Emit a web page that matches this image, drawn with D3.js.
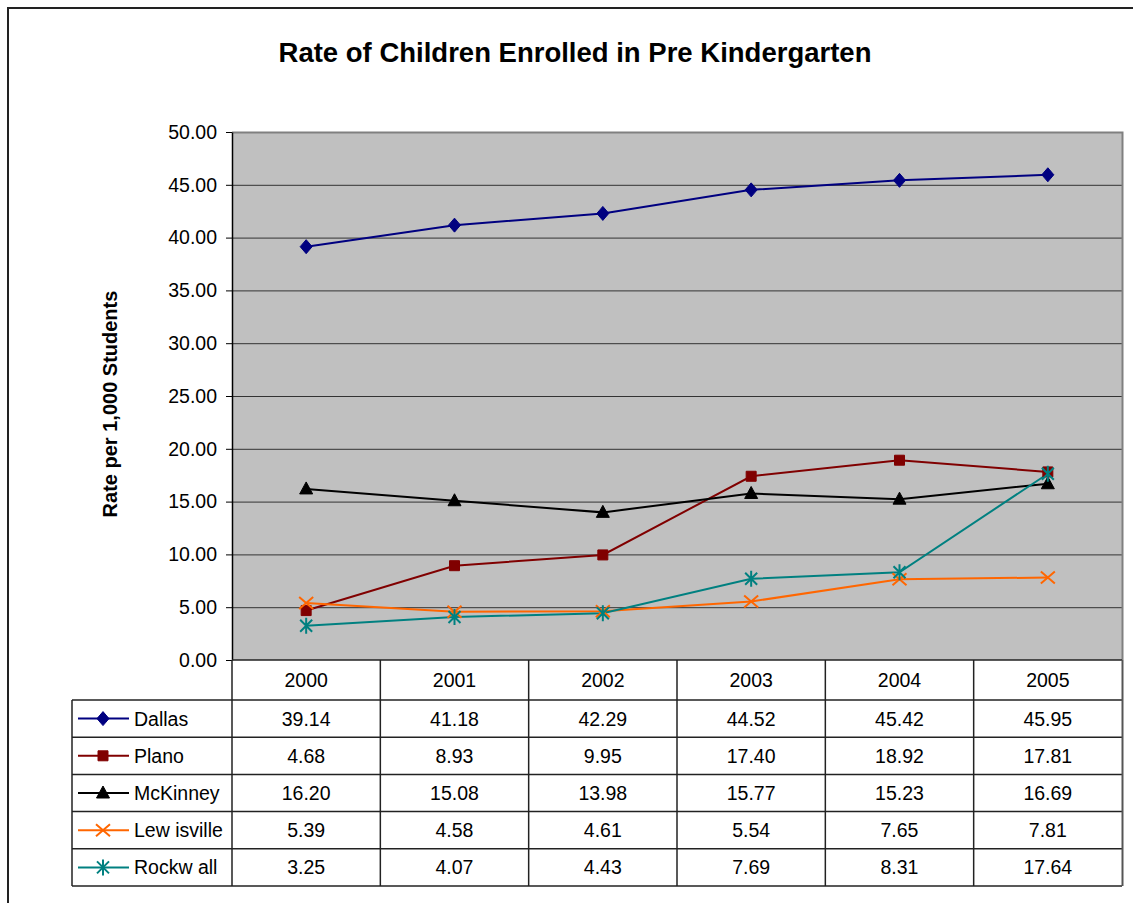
<!DOCTYPE html>
<html>
<head>
<meta charset="utf-8">
<script src="https://cdn.jsdelivr.net/npm/d3@7"></script>
<style>
  body { margin: 0; background: #fff; }
  svg { display: block; font-family: "Liberation Sans", Arial, sans-serif; }
</style>
</head>
<body>
<script>
// values
var years = ["2000", "2001", "2002", "2003", "2004", "2005"];
var cities = ["Dallas", "Plano", "McKinney", "Lew isville", "Rockw all"];
var dallas = [39.14, 41.18, 42.29, 44.52, 45.42, 45.95];
var plano = [4.68, 8.93, 9.95, 17.40, 18.92, 17.81];
var mckinney = [16.20, 15.08, 13.98, 15.77, 15.23, 16.69];
var lewisville = [5.39, 4.58, 4.61, 5.54, 7.65, 7.81];
var rockwall = [3.25, 4.07, 4.43, 7.69, 8.31, 17.64];
var yTicks = [0, 5, 10, 15, 20, 25, 30, 35, 40, 45, 50];

var colors = ["#000080", "#800000", "#000000", "#FF6600", "#008080"];
var markers = ["diamond", "square", "triangle", "x", "star"];

var series = cities.map((c, i) => ({
    name: c,
    values: [dallas, plano, mckinney, lewisville, rockwall][i],
    color: colors[i],
    marker: markers[i]
}));

var width = 1133, height = 903;
var plot = { left: 232, right: 1122, top: 132, bottom: 660 };
var fs = "19.5px";

var svg = d3.select("body").append("svg")
    .attr("width", width)
    .attr("height", height);

// outer chart frame (runs off the page on the right and bottom)
svg.append("rect")
    .attr("x", 8).attr("y", 8)
    .attr("width", 1140).attr("height", 910)
    .attr("fill", "#fff")
    .attr("stroke", "#222")
    .attr("stroke-width", 2);

var x = d3.scaleBand().domain(years).range([plot.left, plot.right]);
var y = d3.scaleLinear().domain([0, 50]).range([plot.bottom, plot.top]);

// plot background
svg.append("rect")
    .attr("x", plot.left).attr("y", plot.top)
    .attr("width", plot.right - plot.left)
    .attr("height", plot.bottom - plot.top)
    .attr("fill", "#C0C0C0");

// gridlines
svg.append("g").selectAll("line")
    .data(yTicks.filter(d => d > 0 && d < 50))
    .enter().append("line")
    .attr("x1", plot.left).attr("x2", plot.right)
    .attr("y1", d => y(d) + 0.5).attr("y2", d => y(d) + 0.5)
    .attr("stroke", "#333")
    .attr("stroke-width", 1);

// plot border top / right in grey
svg.append("path")
    .attr("d", `M${plot.left},${plot.top + 0.5}H${plot.right + 0.5}V${plot.bottom}`)
    .attr("fill", "none")
    .attr("stroke", "#808080")
    .attr("stroke-width", 2);

// y axis
var yAxis = svg.append("g")
    .attr("transform", `translate(${plot.left},0)`)
    .call(d3.axisLeft(y).tickValues(yTicks).tickFormat(d3.format(".2f")).tickSize(6).tickSizeOuter(0));
yAxis.select(".domain").attr("stroke", "#000").attr("stroke-width", 1.5);
yAxis.selectAll(".tick line").attr("stroke", "#000");
yAxis.selectAll("text")
    .attr("font-family", "Liberation Sans, Arial, sans-serif")
    .attr("font-size", fs)
    .attr("fill", "#000")
    .attr("x", -15);

// title
svg.append("text")
    .attr("x", 575).attr("y", 62)
    .attr("text-anchor", "middle")
    .attr("font-size", "27.5px")
    .attr("font-weight", "bold")
    .text("Rate of Children Enrolled in Pre Kindergarten");

// y axis label
svg.append("text")
    .attr("transform", "translate(117,404) rotate(-90)")
    .attr("text-anchor", "middle")
    .attr("font-size", "20px")
    .attr("font-weight", "bold")
    .text("Rate per 1,000 Students");

// marker shapes
function markerPath(type) {
    switch (type) {
        case "diamond": return "M0,-7L6,0L0,7L-6,0Z";
        case "square": return "M-5,-5H5V5H-5Z";
        case "triangle": return "M0,-7L6.5,5H-6.5Z";
        case "x": return "M-7,-6L7,6M-7,6L7,-6";
        case "star": return "M-6,-6L6,6M-6,6L6,-6M0,-8V8";
    }
}
function drawMarker(g, s, cx, cy) {
    var filled = s.marker === "diamond" || s.marker === "square" || s.marker === "triangle";
    g.append("path")
        .attr("transform", `translate(${cx},${cy})`)
        .attr("d", markerPath(s.marker))
        .attr("fill", filled ? s.color : "none")
        .attr("stroke", s.color)
        .attr("stroke-width", filled ? 1 : 2);
}

var line = d3.line()
    .x((d, i) => x(years[i]) + x.bandwidth() / 2)
    .y(d => y(d));

var lines = svg.append("g");
series.forEach(s => {
    lines.append("path")
        .attr("d", line(s.values))
        .attr("fill", "none")
        .attr("stroke", s.color)
        .attr("stroke-width", 2);
});
series.forEach(s => {
    s.values.forEach((v, i) => {
        drawMarker(lines, s, x(years[i]) + x.bandwidth() / 2, y(v));
    });
});

// data table
var tableLeft = 72;
var headTop = plot.bottom, headBottom = 700, tableBottom = 886;
var rowY = d3.scaleBand().domain(cities).range([headBottom, tableBottom]);
var table = svg.append("g").attr("stroke", "#222").attr("stroke-width", 1.5);

// header row
table.append("line")
    .attr("x1", plot.left).attr("x2", plot.right)
    .attr("y1", headTop).attr("y2", headTop);
// horizontal row lines
table.selectAll(".hrow")
    .data([headBottom].concat(cities.map(c => rowY(c) + rowY.bandwidth())))
    .enter().append("line")
    .attr("x1", tableLeft).attr("x2", plot.right)
    .attr("y1", d => d).attr("y2", d => d);
// vertical column lines
table.selectAll(".vcol")
    .data(years.map(yr => x(yr)))
    .enter().append("line")
    .attr("x1", d => d).attr("x2", d => d)
    .attr("y1", headTop).attr("y2", tableBottom);
table.append("line")
    .attr("x1", plot.right + 0.5).attr("x2", plot.right + 0.5)
    .attr("y1", headTop).attr("y2", tableBottom)
    .attr("stroke", "#555").attr("stroke-width", 2);
table.append("line")
    .attr("x1", tableLeft).attr("x2", tableLeft)
    .attr("y1", headBottom).attr("y2", tableBottom);

// year headers
svg.append("g").selectAll("text")
    .data(years)
    .enter().append("text")
    .attr("x", d => x(d) + x.bandwidth() / 2)
    .attr("y", (headTop + headBottom) / 2 + 7)
    .attr("text-anchor", "middle")
    .attr("font-size", fs)
    .text(d => d);

// legend keys + values
series.forEach(s => {
    var cy = rowY(s.name) + rowY.bandwidth() / 2;
    var g = svg.append("g");
    g.append("line")
        .attr("x1", 78).attr("x2", 129)
        .attr("y1", cy).attr("y2", cy)
        .attr("stroke", s.color).attr("stroke-width", 2);
    drawMarker(g, s, 103, cy);
    g.append("text")
        .attr("x", 134).attr("y", cy + 7)
        .attr("font-size", fs)
        .text(s.name);
    g.selectAll(".val")
        .data(s.values)
        .enter().append("text")
        .attr("x", (d, i) => x(years[i]) + x.bandwidth() / 2)
        .attr("y", cy + 7)
        .attr("text-anchor", "middle")
        .attr("font-size", fs)
        .text(d => d.toFixed(2));
});
</script>
</body>
</html>
